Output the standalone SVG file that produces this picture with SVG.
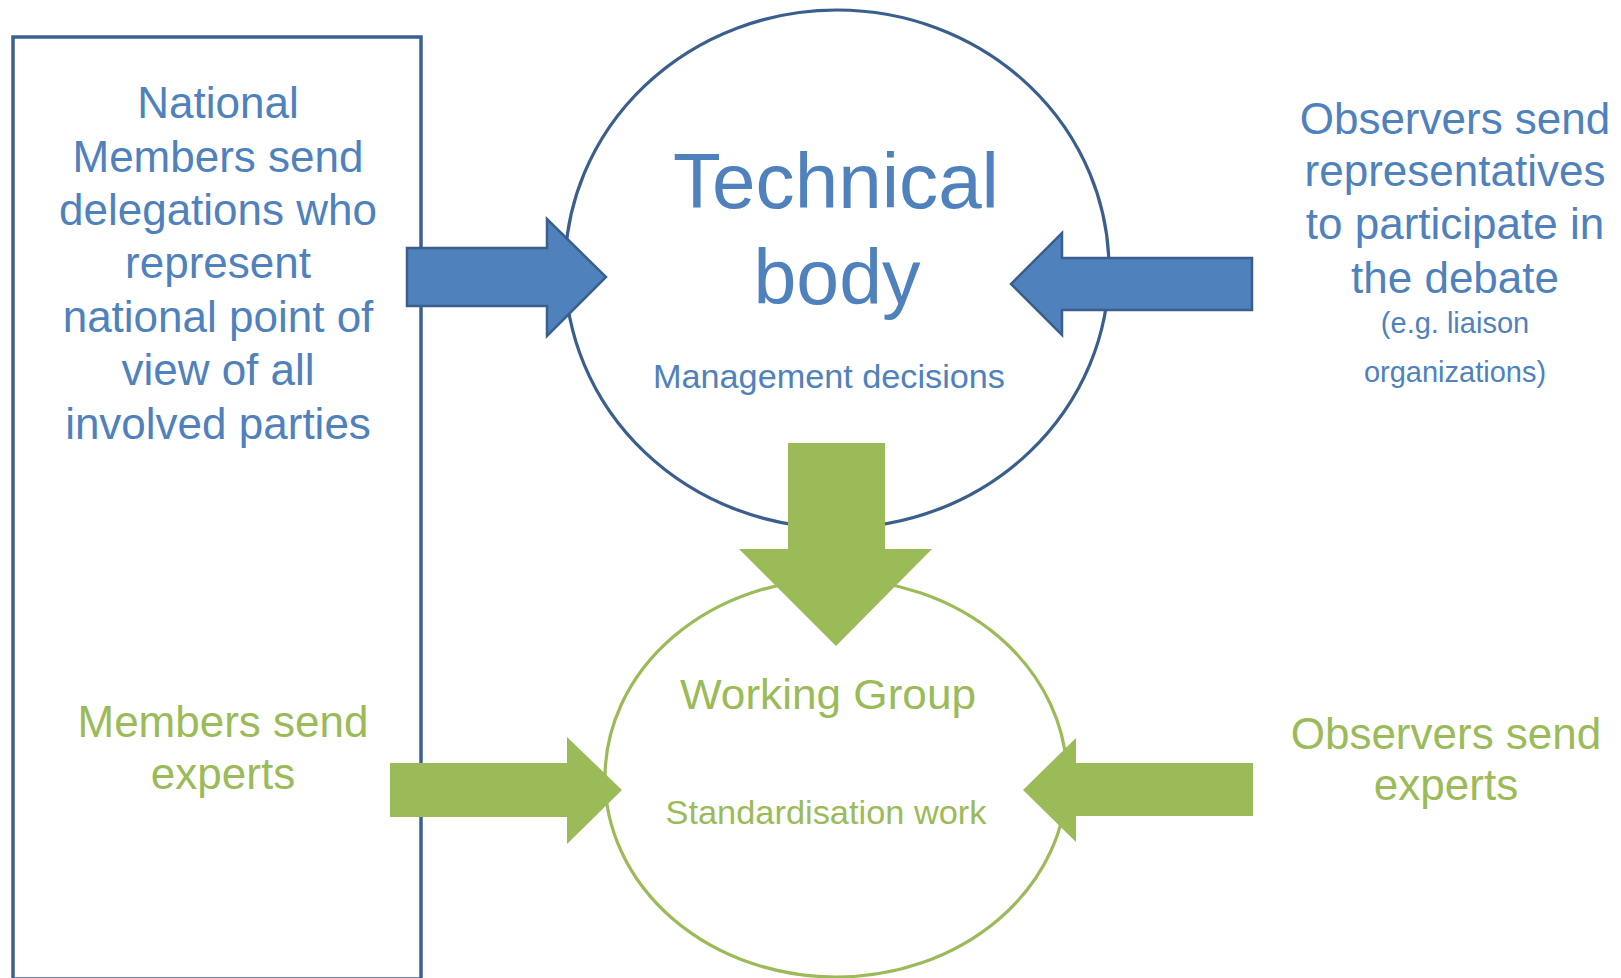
<svg xmlns="http://www.w3.org/2000/svg" width="1621" height="978" viewBox="0 0 1621 978">
<style>
text{font-family:"Liberation Sans",Arial,sans-serif;text-anchor:middle}
.b{fill:#4f81bd}
.g{fill:#9bbb59}
.l{font-size:44px}
.s{font-size:29px}
.barrow{fill:#4f81bd;stroke:#3a5f8d;stroke-width:2.5;stroke-linejoin:miter}
.garrow{fill:#9bbb59}
</style>
<rect width="1621" height="978" fill="#ffffff"/>
<g id="members-box">
<rect x="13" y="37" width="408" height="942" fill="none" stroke="#3c6091" stroke-width="3.5"/>
<text class="b l" x="218" y="118">National</text>
<text class="b l" x="218" y="172">Members send</text>
<text class="b l" x="218" y="225">delegations who</text>
<text class="b l" x="218" y="278">represent</text>
<text class="b l" x="218" y="332">national point of</text>
<text class="b l" x="218" y="385">view of all</text>
<text class="b l" x="218" y="439">involved parties</text>
<text class="g l" x="223" y="737">Members send</text>
<text class="g l" x="223" y="789">experts</text>
</g>
<g id="technical-body">
<ellipse cx="837" cy="269" rx="272" ry="259" fill="none" stroke="#3a5f8d" stroke-width="3.2"/>
<text class="b" x="836" y="208" font-size="77" textLength="326" lengthAdjust="spacingAndGlyphs">Technical</text>
<text class="b" x="837" y="304" font-size="77">body</text>
<text class="b" x="829" y="388" font-size="33" textLength="352" lengthAdjust="spacingAndGlyphs">Management decisions</text>
</g>
<g id="working-group">
<ellipse cx="836" cy="778" rx="231" ry="199" fill="none" stroke="#9bbb59" stroke-width="3.2"/>
<text class="g" x="828" y="709" font-size="43" textLength="296" lengthAdjust="spacingAndGlyphs">Working Group</text>
<text class="g" x="826" y="824" font-size="33" textLength="321" lengthAdjust="spacingAndGlyphs">Standardisation work</text>
</g>
<g id="observers-top">
<text class="b l" x="1455" y="134">Observers send</text>
<text class="b l" x="1455" y="186">representatives</text>
<text class="b l" x="1455" y="239">to participate in</text>
<text class="b l" x="1455" y="293">the debate</text>
<text class="b s" x="1455" y="333">(e.g. liaison</text>
<text class="b s" x="1455" y="382">organizations)</text>
</g>
<g id="observers-bottom">
<text class="g l" x="1446" y="749">Observers send</text>
<text class="g l" x="1446" y="800">experts</text>
</g>
<g id="connectors">
<polygon class="barrow" points="407,248 547,248 547,219 606,277 547,336 547,306 407,306"/>
<polygon class="barrow" points="1252,258 1062,258 1062,233 1011,284 1062,335 1062,310 1252,310"/>
<polygon class="garrow" points="788,443 885,443 885,549 932,549 836,646 739,549 788,549"/>
<polygon class="garrow" points="390,763 567,763 567,737 622,790 567,844 567,817 390,817"/>
<polygon class="garrow" points="1253,763 1076,763 1076,738 1023,790 1076,842 1076,816 1253,816"/>
</g>
</svg>
